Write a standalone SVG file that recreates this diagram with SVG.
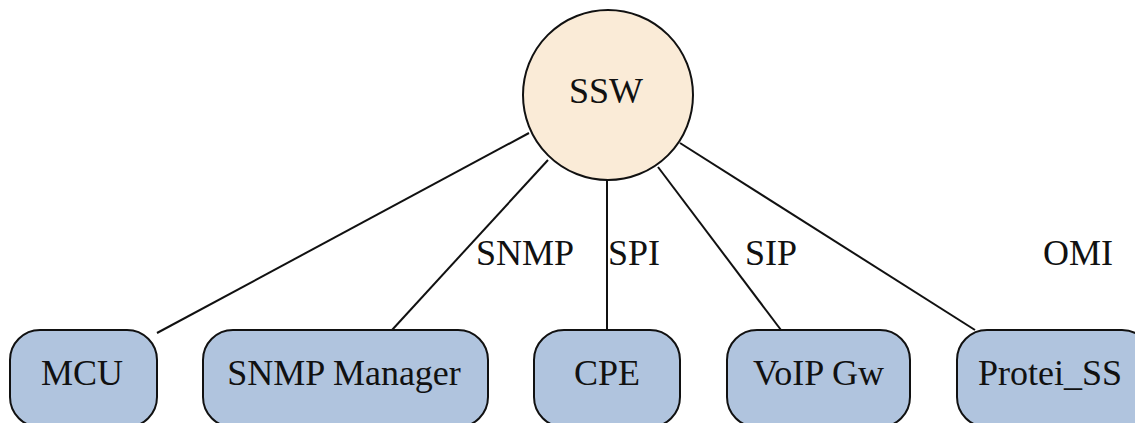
<svg xmlns="http://www.w3.org/2000/svg" width="1135" height="423" viewBox="0 0 1135 423">
<style>
text{font-family:"Liberation Serif","Times New Roman",serif;font-size:36px;fill:#111}
.box{fill:#b0c4de;stroke:#111;stroke-width:2}
.hub{fill:#faebd7;stroke:#111;stroke-width:2}
.edge{stroke:#111;stroke-width:2;fill:none}
.c{text-anchor:middle}
</style>
<rect width="1135" height="423" fill="#fff"/>
<g id="connectors">
<line class="edge" x1="529" y1="133" x2="157" y2="333"/>
<line class="edge" x1="548" y1="160" x2="392" y2="330"/>
<line class="edge" x1="607" y1="180" x2="607" y2="330"/>
<line class="edge" x1="658" y1="167" x2="781" y2="330"/>
<line class="edge" x1="680" y1="143" x2="975" y2="330"/>
<text x="476" y="265">SNMP</text>
<text x="608" y="265">SPI</text>
<text x="745" y="265">SIP</text>
<text x="1043" y="265">OMI</text>
</g>
<g id="ssw">
<circle class="hub" cx="608" cy="95" r="85"/>
<text class="c" x="606" y="103">SSW</text>
</g>
<g id="mcu">
<rect class="box" x="10" y="330" width="147" height="97" rx="30"/>
<text class="c" x="82" y="385">MCU</text>
</g>
<g id="snmp-manager">
<rect class="box" x="203" y="330" width="285" height="97" rx="30"/>
<text class="c" x="344" y="385">SNMP Manager</text>
</g>
<g id="cpe">
<rect class="box" x="534" y="330" width="146" height="97" rx="30"/>
<text class="c" x="607" y="385">CPE</text>
</g>
<g id="voip-gw">
<rect class="box" x="727" y="330" width="183" height="97" rx="30"/>
<text class="c" x="818.5" y="385">VoIP Gw</text>
</g>
<g id="protei-ss">
<rect class="box" x="957" y="330" width="195" height="97" rx="30"/>
<text x="978" y="385">Protei_SS</text>
</g>
</svg>
